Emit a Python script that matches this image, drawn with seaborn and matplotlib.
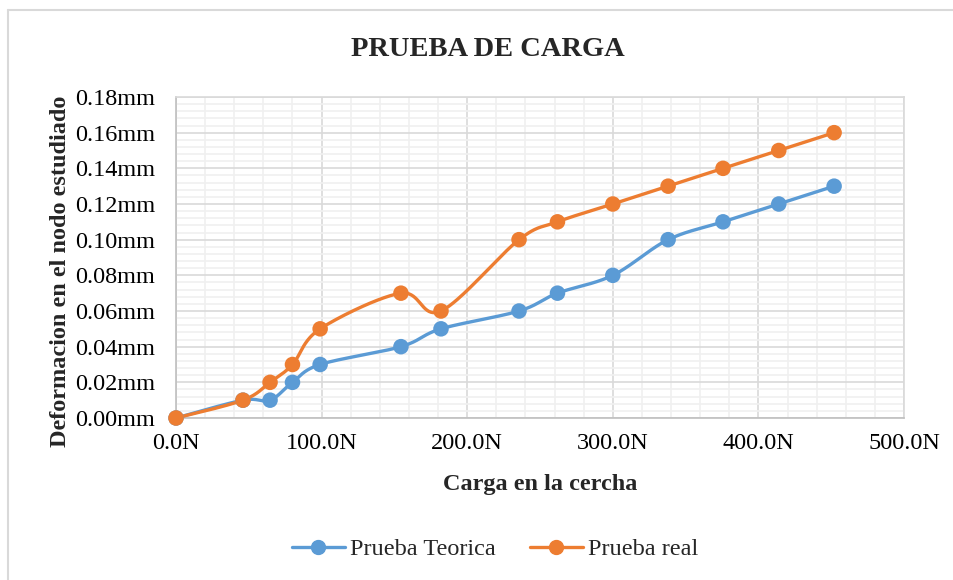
import numpy as np
import pandas as pd
import seaborn as sns
import matplotlib.pyplot as plt
from matplotlib.lines import Line2D
from matplotlib.ticker import MultipleLocator, FuncFormatter

# Load (N) and deflection (mm) for the two tests
carga = [0.0, 46.0, 64.6, 80.0, 99.0, 154.5, 182.0, 235.6, 262.0, 300.0, 338.0, 375.7, 414.0, 452.0]
teorica = [0.00, 0.01, 0.01, 0.02, 0.03, 0.04, 0.05, 0.06, 0.07, 0.08, 0.10, 0.11, 0.12, 0.13]
real = [0.00, 0.01, 0.02, 0.03, 0.05, 0.07, 0.06, 0.10, 0.11, 0.12, 0.13, 0.14, 0.15, 0.16]
series_names = ["Prueba Teorica", "Prueba real"]
colors = ["#5B9BD5", "#ED7D31"]

title = "PRUEBA DE CARGA"
xlabel = "Carga en la cercha"
ylabel = "Deformacion en el nodo estudiado"

sns.set_theme(style="white")
plt.rcParams["font.family"] = ["Liberation Serif", "DejaVu Serif"]

W, H = 954, 580
fig = plt.figure(figsize=(W / 100, H / 100), dpi=100)
ax_l, ax_r, ax_t, ax_b = 176, 904, 97, 418
ax = fig.add_axes([ax_l / W, 1 - ax_b / H, (ax_r - ax_l) / W, (ax_b - ax_t) / H])

xmax, ymax = 500, 0.18
ax.set_xlim(0, xmax)
ax.set_ylim(0, ymax)


def smooth(xs, ys, n=40):
    """Excel-like smoothed line: cubic Bezier through points, computed in screen scale."""
    sx = (ax_r - ax_l) / xmax
    sy = (ax_b - ax_t) / ymax
    P = np.column_stack([np.asarray(xs) * sx, np.asarray(ys) * sy])
    out = [P[0]]
    m = len(P)
    for i in range(m - 1):
        p0 = P[i - 1] if i > 0 else P[i]
        p1, p2 = P[i], P[i + 1]
        p3 = P[i + 2] if i + 2 < m else P[i + 1]
        c1 = p1 + (p2 - p0) / 6.0
        c2 = p2 - (p3 - p1) / 6.0
        t = np.linspace(0, 1, n)[1:, None]
        seg = ((1 - t) ** 3) * p1 + 3 * ((1 - t) ** 2) * t * c1 + 3 * (1 - t) * t ** 2 * c2 + t ** 3 * p2
        out.extend(seg)
    out = np.array(out)
    return out[:, 0] / sx, out[:, 1] / sy


curves = []
points = []
for name, vals in zip(series_names, [teorica, real]):
    cx, cy = smooth(carga, vals)
    curves.append(pd.DataFrame({"x": cx, "y": cy, "serie": name}))
    points.append(pd.DataFrame({"x": carga, "y": vals, "serie": name}))
curve_df = pd.concat(curves, ignore_index=True)
point_df = pd.concat(points, ignore_index=True)
palette = dict(zip(series_names, colors))

# gridlines
ax.xaxis.set_major_locator(MultipleLocator(100))
ax.xaxis.set_minor_locator(MultipleLocator(20))
ax.yaxis.set_major_locator(MultipleLocator(0.02))
ax.yaxis.set_minor_locator(MultipleLocator(0.004))
ax.grid(which="minor", color="#F0F0F0", linewidth=1.2)
ax.grid(which="major", color="#D9D9D9", linewidth=1.2)
ax.set_axisbelow(True)

sns.lineplot(data=curve_df, x="x", y="y", hue="serie", palette=palette, sort=False,
             estimator=None, units="serie", linewidth=2.4, legend=False, ax=ax, zorder=3)
sns.scatterplot(data=point_df, x="x", y="y", hue="serie", palette=palette, s=125,
                edgecolor="none", legend=False, ax=ax, zorder=4, clip_on=False)

for side in ["top", "right"]:
    ax.spines[side].set_color("#D9D9D9")
    ax.spines[side].set_linewidth(1.2)
for side in ["left", "bottom"]:
    ax.spines[side].set_color("#BFBFBF")
    ax.spines[side].set_linewidth(1.2)

ax.tick_params(which="major", direction="out", length=6, width=1.2, color="#BFBFBF",
               labelsize=17.5, labelcolor="black")
ax.tick_params(which="minor", direction="in", length=4, width=1.0, color="#BFBFBF")
ax.tick_params(axis="x", which="major", pad=5)
ax.tick_params(axis="y", which="major", pad=9)
ax.xaxis.set_major_formatter(FuncFormatter(lambda v, p: f"{v:.1f}N"))
ax.yaxis.set_major_formatter(FuncFormatter(lambda v, p: f"{v:.2f}mm"))

ax.set_xlabel(xlabel, fontsize=17.5, fontweight="bold", labelpad=14)
ax.set_ylabel(ylabel, fontsize=17.5, fontweight="bold")
ax.yaxis.set_label_coords((71 - ax_l) / (ax_r - ax_l), (ax_b - 271) / (ax_b - ax_t))
fig.text(488 / W, 1 - 50 / H, title, ha="center", va="center", fontsize=20.5, fontweight="bold")

handles = [Line2D([0], [0], color=c, linewidth=2.4, marker="o", markersize=10) for c in colors]
fig.legend(handles, series_names, loc="center", bbox_to_anchor=(495 / W, 1 - 549 / H), ncol=2,
           frameon=False, fontsize=17.5, handlelength=2.2, columnspacing=1.4, handletextpad=0.2)

# chart frame
fig.add_artist(Line2D([8 / W, 8 / W], [0, 1 - 10 / H], color="#D9D9D9", linewidth=1.5))
fig.add_artist(Line2D([8 / W, 1], [1 - 10 / H, 1 - 10 / H], color="#D9D9D9", linewidth=1.5))

fig.savefig("out.png", dpi=100)
